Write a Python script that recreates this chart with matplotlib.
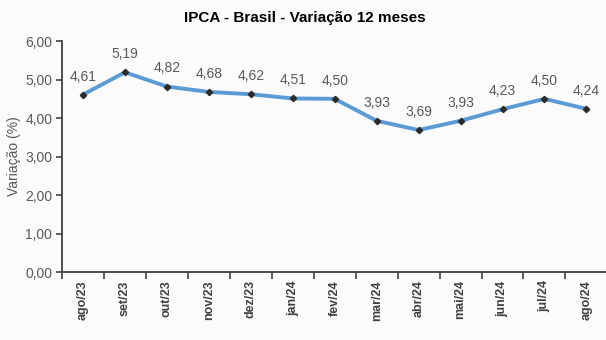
import matplotlib
matplotlib.use("Agg")
import matplotlib.pyplot as plt

months = ["ago/23", "set/23", "out/23", "nov/23", "dez/23", "jan/24", "fev/24",
          "mar/24", "abr/24", "mai/24", "jun/24", "jul/24", "ago/24"]
values = [4.61, 5.19, 4.82, 4.68, 4.62, 4.51, 4.50, 3.93, 3.69, 3.93, 4.23, 4.50, 4.24]
yticks = [0, 1, 2, 3, 4, 5, 6]

plt.rcParams['font.family'] = ['Liberation Sans', 'DejaVu Sans']

fig = plt.figure(figsize=(6.06, 3.4), dpi=100)
bg = '#fbfbfb'
fig.patch.set_facecolor(bg)
ax = fig.add_axes([0.1023, 0.2, 0.9, 0.679])
ax.set_facecolor(bg)

x = list(range(len(months)))
ax.plot(x, values, color='#5b9bd5', lw=2.8, zorder=2)
ax.plot(x, values, linestyle='none', marker='D', markersize=3.2, color='#2b2b2b', zorder=3)

for xi, v in zip(x, values):
    ax.annotate(f"{v:.2f}".replace('.', ','), (xi, v), xytext=(0, 8), textcoords='offset points',
                ha='center', va='bottom', fontsize=10, color='#595959')

ax.set_xlim(-0.5, len(months) - 0.5)
ax.set_ylim(0, 6)
ax.set_yticks(yticks)
ax.set_yticklabels([f"{t:.2f}".replace('.', ',') for t in yticks], fontsize=10, color='#595959')
ax.set_xticks(x)
ax.set_xticklabels(months, rotation=90, fontsize=9, fontweight='bold', color='#404040')
ax.set_xticks([i - 0.5 for i in range(len(months) + 1)], minor=True)
ax.tick_params(axis='x', which='major', length=0, pad=6)
ax.tick_params(axis='x', which='minor', length=5, width=1.2, color='#404040', direction='out')
ax.tick_params(axis='y', length=4, width=1.2, color='#404040', pad=3)

for s in ['top', 'right']:
    ax.spines[s].set_visible(False)
for s in ['left', 'bottom']:
    ax.spines[s].set_color('#404040')
    ax.spines[s].set_linewidth(1.3)

ax.set_ylabel("Variação (%)", fontsize=10, color='#595959', labelpad=3)
fig.text(0.503, 0.948, "IPCA - Brasil - Variação 12 meses", ha='center', va='center',
         fontsize=11, fontweight='bold', color='#000000')

fig.savefig("out.png", dpi=100, facecolor=bg)
